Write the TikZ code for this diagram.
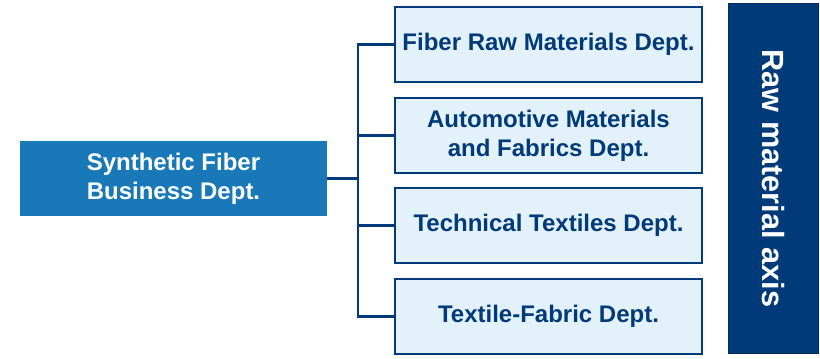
\documentclass[tikz,border=0pt]{standalone}
\usepackage{fontspec}
\setmainfont{Liberation Sans}
\usetikzlibrary{positioning}

\definecolor{deptnavy}{RGB}{0,58,120}
\definecolor{deptblue}{RGB}{24,120,184}
\definecolor{deptpale}{RGB}{227,241,250}

\tikzset{
  subdept/.style={draw=deptnavy, line width=1.9pt, fill=deptpale, text=deptnavy,
    minimum width=230pt, minimum height=56pt, align=center, inner sep=2pt,
    font=\fontsize{18}{22}\selectfont\bfseries},
  topdept/.style={fill=deptblue, text=white, minimum width=230pt, minimum height=56pt,
    align=center, font=\fontsize{18}{22}\selectfont\bfseries},
  axisbar/.style={draw=deptnavy!80!black, line width=0.6pt, fill=deptnavy, text=white,
    minimum width=263pt, minimum height=67pt, rotate=-90,
    font=\fontsize{23}{27}\selectfont\bfseries},
  tree/.style={draw=deptnavy, line width=2pt}
}

\begin{document}
\begin{tikzpicture}[x=0.75pt,y=0.75pt,yscale=-1,xscale=1]
    \useasboundingbox (0,0) rectangle (820,358);

    % Main department
    \node [topdept] (main) at (173.5,178.5) {Synthetic Fiber\\Business Dept.};

    % Sub departments
    \node [subdept] (fiber) at (548.5,44.5) {Fiber Raw Materials Dept.};
    \node [subdept] (auto) at (548.5,135.5) {Automotive Materials\\and Fabrics Dept.};
    \node [subdept] (tech) at (548.5,225.5) {Technical Textiles Dept.};
    \node [subdept] (fabric) at (548.5,316.5) {Textile-Fabric Dept.};

    % Axis bar
    \node [axisbar] (axis) at (773.5,178.5) {Raw material axis};

    % Tree connectors
    \coordinate (spine) at (358,178.5);
    \draw [tree] (main.east) -- (spine);
    \draw [tree] (fiber.west) -- (fiber.west -| spine) -- (fabric.west -| spine) -- (fabric.west);
    \draw [tree] (auto.west) -- (auto.west -| spine);
    \draw [tree] (tech.west) -- (tech.west -| spine);

\end{tikzpicture}
\end{document}
